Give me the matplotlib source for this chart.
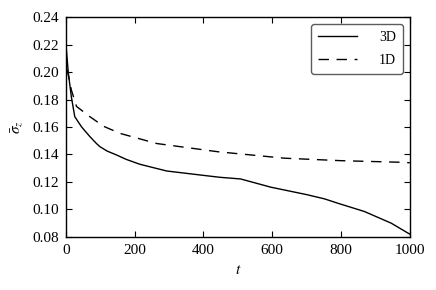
import matplotlib
matplotlib.use("Agg")
import matplotlib.pyplot as plt

# Dados
t_3d = [0, 7, 16, 26, 46, 70, 89, 99, 120, 147, 175, 215, 293, 390, 448, 508, 596, 700, 752, 791,
        868, 946, 1000]
sigma_3d = [0.221, 0.200, 0.182, 0.1675, 0.160, 0.153, 0.148, 0.1457, 0.1425, 0.1397, 0.1365, 0.1329,
            0.128, 0.1251, 0.1234, 0.1222, 0.1162, 0.1108, 0.1077, 0.1045, 0.0985, 0.090, 0.0820]

t_1d = [0, 2, 16, 31, 70, 110, 157, 264, 442, 636, 800, 965, 1000]
sigma_1d = [0.215, 0.204, 0.187, 0.175, 0.1675, 0.1605, 0.1554, 0.148, 0.142, 0.1373, 0.1355,
            0.1344, 0.134]

xticks = [0, 200, 400, 600, 800, 1000]
yticks = [0.08, 0.10, 0.12, 0.14, 0.16, 0.18, 0.20, 0.22, 0.24]

plt.rcParams["font.family"] = "Liberation Serif"
plt.rcParams["mathtext.fontset"] = "stix"
plt.rcParams["font.size"] = 11

fig = plt.figure(figsize=(4.36, 2.90), dpi=100)
ax = fig.add_axes([0.151, 0.183, 0.789, 0.758])

ax.plot(t_3d, sigma_3d, color="black", linewidth=1.0, label="3D")
ax.plot(t_1d, sigma_1d, color="black", linewidth=1.0, linestyle=(0, (7.5, 5.5)), label="1D")

ax.set_xlim(0, 1000)
ax.set_ylim(0.08, 0.24)
ax.set_xticks(xticks)
ax.set_yticks(yticks)
ax.set_yticklabels([f"{v:.2f}" for v in yticks])
ax.tick_params(direction="in", top=True, right=True, length=4, width=0.8, pad=5, labelsize=11)
for s in ax.spines.values():
    s.set_linewidth(1.0)

ax.set_xlabel(r"$t$", fontsize=11, labelpad=5)
ax.set_ylabel(r"$\bar{\sigma}_z$", fontsize=11, labelpad=5)

leg = ax.legend(loc="upper right", fontsize=10, handlelength=2.8, fancybox=True,
                borderaxespad=0.5, handletextpad=1.6, labelspacing=0.7, borderpad=0.5)
leg.get_frame().set_edgecolor("#333333")
leg.get_frame().set_linewidth(1.0)

fig.savefig("out.png", dpi=100)
